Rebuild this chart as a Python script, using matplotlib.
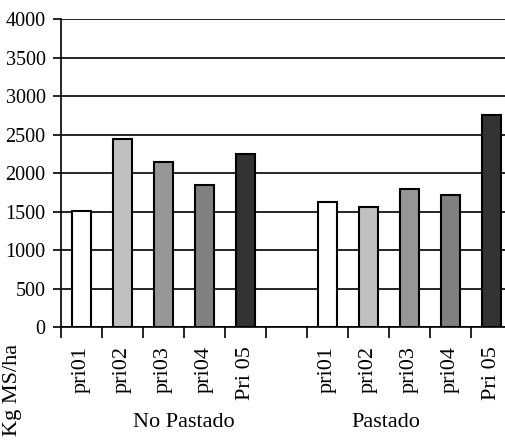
import matplotlib
matplotlib.use("Agg")
import matplotlib.pyplot as plt
import numpy as np

categories = ["pri01", "pri02", "pri03", "pri04", "Pri 05", "",
              "pri01", "pri02", "pri03", "pri04", "Pri 05"]
values = [1510, 2440, 2150, 1845, 2255, 0,
          1630, 1555, 1790, 1710, 2750]
colors = ["#ffffff", "#c0c0c0", "#969696", "#808080", "#333333", "none",
          "#ffffff", "#c0c0c0", "#969696", "#808080", "#333333"]
groups = ["No Pastado", "Pastado"]
yticks = [0, 500, 1000, 1500, 2000, 2500, 3000, 3500, 4000]

plt.rcParams['font.family'] = ['Liberation Serif', 'DejaVu Serif']

fig = plt.figure(figsize=(5.06, 4.44), dpi=100)
ax = fig.add_axes([61/506, 1-327/444, 451/506, (327-19.3)/444])

x = np.arange(len(categories))
for xi, v, c in zip(x, values, colors):
    if categories[xi] == "":
        continue
    ax.bar(xi, v, width=0.44, color=c, edgecolor="black", linewidth=1.5, zorder=3)

ax.set_xlim(-0.5, len(categories) - 0.5)
ax.set_ylim(0, 4000)
ax.set_yticks(yticks)
ax.set_yticklabels([str(t) for t in yticks], fontsize=14.5)
ax.yaxis.grid(True, color="black", linewidth=1.2, zorder=0)
ax.set_axisbelow(True)

ax.set_xticks(x)
ax.set_xticklabels(categories, rotation=90, fontsize=16, va="top")
ax.tick_params(axis="x", which="major", length=0, pad=14)
ax.set_xticks(np.arange(-0.5, len(categories)), minor=True)
ax.tick_params(axis="x", which="minor", length=8, width=1.2, direction="out")
ax.tick_params(axis="y", length=6, width=1.2, direction="out", pad=5)

for s in ["top", "right"]:
    ax.spines[s].set_visible(False)
for s in ["left", "bottom"]:
    ax.spines[s].set_linewidth(1.2)

ax.text(2.5, -0.31, groups[0], transform=ax.get_xaxis_transform(),
        ha="center", va="center", fontsize=16)
ax.text(7.43, -0.31, groups[1], transform=ax.get_xaxis_transform(),
        ha="center", va="center", fontsize=16)

fig.text(13/506, 1-390/444, "Kg MS/ha", rotation=90, ha="center", va="center", fontsize=16)

fig.savefig("out.png", dpi=100)
